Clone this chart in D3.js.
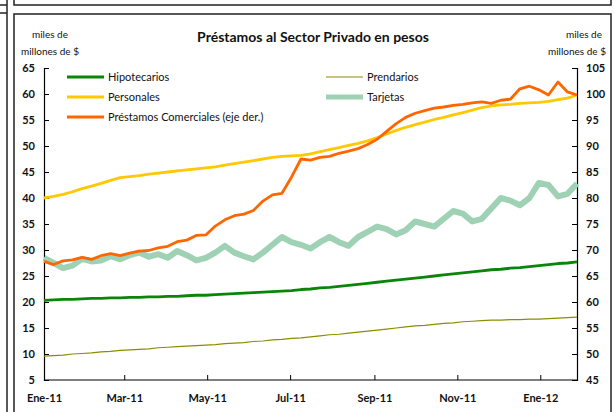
<!DOCTYPE html>
<html>
<head>
<meta charset="utf-8">
<script src="https://cdn.jsdelivr.net/npm/d3@7"></script>
<style>
  body { margin: 0; background: #fff; }
  svg { display: block; font-family: Lato, "Open Sans", sans-serif; }
</style>
</head>
<body>
<div id="myPlot"></div>
<script>
// Fechas semanales (eje x)
const fechas = ["2011-01-01","2011-01-08","2011-01-15","2011-01-22","2011-01-29","2011-02-05","2011-02-12","2011-02-19","2011-02-26",
  "2011-03-05","2011-03-12","2011-03-19","2011-03-26","2011-04-02","2011-04-09","2011-04-16","2011-04-23","2011-04-30",
  "2011-05-07","2011-05-14","2011-05-21","2011-05-28","2011-06-04","2011-06-11","2011-06-18","2011-06-25","2011-07-02",
  "2011-07-09","2011-07-16","2011-07-23","2011-07-30","2011-08-06","2011-08-13","2011-08-20","2011-08-27","2011-09-03",
  "2011-09-10","2011-09-17","2011-09-24","2011-10-01","2011-10-08","2011-10-15","2011-10-22","2011-10-29","2011-11-05",
  "2011-11-12","2011-11-19","2011-11-26","2011-12-03","2011-12-10","2011-12-17","2011-12-24","2011-12-31","2012-01-07",
  "2012-01-14","2012-01-21","2012-01-28"];

// miles de millones de $ (eje izq.)
const hipotecarios = [20.3,20.4,20.5,20.5,20.6,20.7,20.7,20.8,20.8,20.9,20.9,21.0,21.0,21.1,21.1,21.2,21.3,21.3,21.4,21.5,
  21.6,21.7,21.8,21.9,22.0,22.1,22.2,22.4,22.5,22.7,22.8,23.0,23.2,23.4,23.6,23.8,24.0,24.2,24.4,24.6,24.8,25.0,25.2,25.4,
  25.6,25.8,26.0,26.2,26.3,26.5,26.6,26.8,27.0,27.2,27.4,27.5,27.7];
const personales = [40.0,40.3,40.7,41.2,41.8,42.3,42.8,43.4,43.9,44.1,44.3,44.6,44.8,45.0,45.2,45.4,45.6,45.8,46.0,46.3,
  46.6,46.9,47.2,47.5,47.8,48.0,48.1,48.2,48.5,48.9,49.3,49.7,50.1,50.5,51.0,51.6,52.3,53.0,53.6,54.1,54.6,55.1,55.5,56.0,
  56.4,56.9,57.4,57.7,57.9,58.0,58.2,58.3,58.4,58.6,58.9,59.2,59.8];
const prendarios = [9.6,9.7,9.8,10.0,10.1,10.2,10.4,10.5,10.7,10.8,10.9,11.0,11.2,11.3,11.4,11.5,11.6,11.7,11.8,12.0,
  12.1,12.2,12.4,12.5,12.7,12.8,13.0,13.1,13.3,13.5,13.7,13.8,14.0,14.2,14.4,14.6,14.8,15.0,15.2,15.4,15.5,15.7,15.9,16.0,
  16.2,16.3,16.4,16.5,16.5,16.6,16.6,16.7,16.7,16.8,16.9,17.0,17.1];
const tarjetas = [28.5,27.5,26.5,27.0,28.3,27.8,28.0,28.8,28.2,29.0,29.5,28.7,29.2,28.5,29.8,29.0,28.0,28.5,29.5,30.8,
  29.5,28.8,28.2,29.5,31.0,32.5,31.5,31.0,30.3,31.5,32.5,31.5,30.8,32.5,33.5,34.5,34.0,33.0,33.8,35.5,35.0,34.5,36.0,37.5,
  37.0,35.5,36.0,38.0,40.0,39.5,38.6,40.0,42.9,42.5,40.3,40.8,42.8];
// eje der.
const comerciales = [67.8,67.2,67.9,68.1,68.6,68.2,68.9,69.3,68.9,69.4,69.8,69.9,70.4,70.7,71.6,71.9,72.8,72.9,74.6,75.8,
  76.6,76.9,77.6,79.4,80.6,80.9,84.0,87.5,87.3,87.8,88.0,88.6,89.0,89.5,90.3,91.3,92.8,94.3,95.5,96.3,96.8,97.3,97.5,97.8,
  98.0,98.3,98.5,98.2,98.8,99.0,101.0,101.5,100.8,99.8,102.3,100.4,99.8];

const ticksIzq = [5,10,15,20,25,30,35,40,45,50,55,60,65];
const ticksDer = [45,50,55,60,65,70,75,80,85,90,95,100,105];
const mesesLabels = ["Ene-11","Mar-11","May-11","Jul-11","Sep-11","Nov-11","Ene-12"];
const mesesFechas = ["2011-01-01","2011-03-01","2011-05-01","2011-07-01","2011-09-01","2011-11-01","2012-01-01"];

const W = 614, H = 412;
const parse = d3.timeParse("%Y-%m-%d");
const fechasD = fechas.map(parse);

const svg = d3.select("#myPlot").append("svg")
  .attr("width", W).attr("height", H);

// Marcos
const frame = svg.append("g").attr("fill", "none").attr("stroke", "#222").attr("stroke-width", 1.5);
frame.append("line").attr("x1", 7).attr("y1", 0).attr("x2", 7).attr("y2", H);
frame.append("line").attr("x1", 0).attr("y1", 5).attr("x2", 7).attr("y2", 5);
frame.append("line").attr("x1", 0).attr("y1", 13).attr("x2", 7).attr("y2", 13);
frame.append("path").attr("d", "M14,0V5H611V0");
frame.append("path").attr("d", "M14," + H + "V14H611V" + H);

// Escalas
const x = d3.scaleTime()
  .domain([parse("2011-01-01"), parse("2012-01-28")])
  .range([44, 577]);
const yL = d3.scaleLinear().domain([5, 65]).range([380, 68]);
const yR = d3.scaleLinear().domain([45, 105]).range([380, 68]);

// Ejes
const axL = svg.append("g").attr("transform", "translate(44,0)")
  .call(d3.axisRight(yL).tickValues(ticksIzq).tickSize(5).tickFormat(d3.format("d")));
axL.selectAll("text").attr("x", -9).attr("text-anchor", "end");
const axR = svg.append("g").attr("transform", "translate(577,0)")
  .call(d3.axisLeft(yR).tickValues(ticksDer).tickSize(5).tickFormat(d3.format("d")));
axR.selectAll("text").attr("x", 9).attr("text-anchor", "start");
const axB = svg.append("g").attr("transform", "translate(0,380)")
  .call(d3.axisTop(x).tickValues(mesesFechas.map(parse)).tickSize(5)
    .tickFormat((d, i) => mesesLabels[i]));
axB.selectAll("text").attr("y", 18).attr("dy", "0.35em");

[axL, axR, axB].forEach(a => {
  a.select(".domain").attr("stroke", "#000").attr("stroke-width", 1.2);
  a.selectAll(".tick line").attr("stroke", "#000");
  a.selectAll("text").attr("font-size", 11).attr("font-weight", "bold")
    .attr("fill", "#111").attr("font-family", "Lato, sans-serif");
});
axB.select(".domain").attr("d", "M44,0H577");

// Series
const series = [
  { name: "Tarjetas", vals: tarjetas, y: yL, color: "#9fd1b5", w: 6 },
  { name: "Prendarios", vals: prendarios, y: yL, color: "#8c8c00", w: 1.2 },
  { name: "Hipotecarios", vals: hipotecarios, y: yL, color: "#0a850a", w: 2.8 },
  { name: "Personales", vals: personales, y: yL, color: "#ffc800", w: 2.8 },
  { name: "Préstamos Comerciales (eje der.)", vals: comerciales, y: yR, color: "#ff6600", w: 2.8 }
];

series.forEach(s => {
  const line = d3.line()
    .x((d, i) => x(fechasD[i]))
    .y(d => s.y(d));
  svg.append("path")
    .datum(s.vals)
    .attr("fill", "none")
    .attr("stroke", s.color)
    .attr("stroke-width", s.w)
    .attr("stroke-linejoin", "round")
    .attr("d", line);
});

// Leyenda
const leyenda = [
  { s: series[2], x: 67, y: 77 },
  { s: series[3], x: 67, y: 97 },
  { s: series[4], x: 67, y: 117 },
  { s: series[1], x: 326, y: 77 },
  { s: series[0], x: 326, y: 97 }
];
const lg = svg.append("g");
leyenda.forEach(l => {
  lg.append("line")
    .attr("x1", l.x).attr("x2", l.x + 37)
    .attr("y1", l.y).attr("y2", l.y)
    .attr("stroke", l.s.color)
    .attr("stroke-width", l.s.w === 6 ? 5 : l.s.w);
  lg.append("text")
    .attr("x", l.x + 41).attr("y", l.y).attr("dy", "0.35em")
    .attr("font-size", 11).attr("fill", "#111")
    .text(l.s.name);
});

// Textos
svg.append("text").attr("x", 313).attr("y", 42)
  .attr("text-anchor", "middle").attr("font-size", 14).attr("font-weight", "bold")
  .attr("fill", "#111").text("Préstamos al Sector Privado en pesos");
[["miles de", 50, 38], ["millones de $", 50, 55], ["miles de", 584, 38], ["millones de $", 577, 55]].forEach(t => {
  svg.append("text").attr("x", t[1]).attr("y", t[2])
    .attr("text-anchor", "middle").attr("font-size", 10).attr("fill", "#111").text(t[0]);
});
</script>
</body>
</html>
